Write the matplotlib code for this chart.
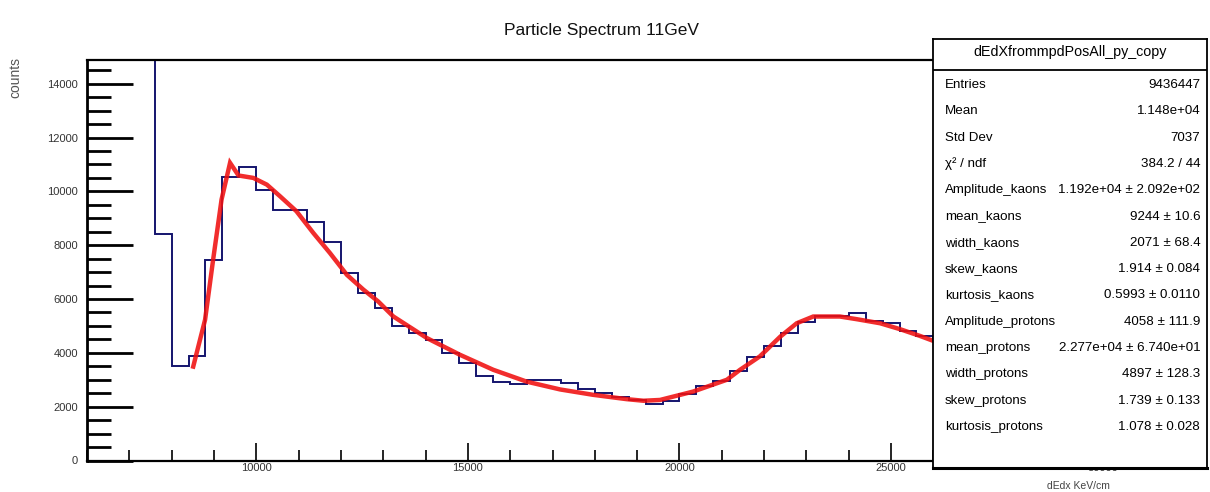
import matplotlib
matplotlib.use("Agg")
import matplotlib.pyplot as plt
from matplotlib.ticker import MultipleLocator
import numpy as np

plt.rcParams['font.family'] = ['Liberation Sans Narrow', 'Liberation Sans', 'DejaVu Sans']

# histogram: 400-wide bins starting at 6000
bin_start = 6000
bin_width = 400
counts = [15500, 15500, 15500, 15500, 8400, 3500, 3900, 7450, 10550, 10920,
          10060, 9300, 9300, 8870, 8110, 6980, 6230, 5680, 4990, 4740,
          4460, 3990, 3630, 3130, 2930, 2850, 2990, 2990, 2890, 2650,
          2490, 2360, 2250, 2100, 2200, 2480, 2750, 2970, 3310, 3850,
          4250, 4730, 5160, 5370, 5370, 5480, 5170, 5100, 4800, 4610,
          4450, 4300, 4150, 4000]

# fit curve
fit_x = [8510, 8790, 8980, 9180, 9380, 9580, 9930, 10250, 10560, 10950,
         11350, 11740, 12140, 12530, 12880, 13240, 14030, 14810, 15600,
         16390, 17180, 17960, 18750, 19150, 19540, 20320, 21120, 21430,
         21900, 22380, 22770, 23160, 23790, 24190, 24740, 25210, 25680, 26040, 26400]
fit_y = [3490, 5230, 7460, 9700, 11060, 10590, 10500, 10250, 9820, 9260,
         8450, 7710, 6900, 6350, 5910, 5350, 4550, 3930, 3370,
         2930, 2640, 2440, 2280, 2220, 2250, 2560, 3000, 3370,
         3870, 4600, 5100, 5350, 5350, 5250, 5100, 4880, 4630, 4420, 4250]

stats_labels = ["Entries", "Mean", "Std Dev", "\u03c7\u00b2 / ndf", "Amplitude_kaons",
                "mean_kaons", "width_kaons", "skew_kaons", "kurtosis_kaons",
                "Amplitude_protons", "mean_protons", "width_protons",
                "skew_protons", "kurtosis_protons"]
stats_values = ["9436447", "1.148e+04", "7037", "384.2 / 44",
                "1.192e+04 \u00b1 2.092e+02", "9244 \u00b1 10.6", "2071 \u00b1 68.4",
                "1.914 \u00b1 0.084", "0.5993 \u00b1 0.0110", "4058 \u00b1 111.9",
                "2.277e+04 \u00b1 6.740e+01", "4897 \u00b1 128.3",
                "1.739 \u00b1 0.133", "1.078 \u00b1 0.028"]

W, H = 1210, 492
fig = plt.figure(figsize=(W / 100, H / 100), dpi=100)
ax = fig.add_axes([87 / W, 1 - 460.5 / H, (1102.7 - 87) / W, (460.5 - 59.5) / H])

edges = bin_start + bin_width * np.arange(len(counts) + 1)
ax.stairs(counts, edges, color='#14146e', lw=1.4, baseline=0, zorder=2)
ax.plot(fit_x, fit_y, color='#f01010', lw=3.2, alpha=0.88, zorder=3,
        solid_joinstyle='miter')

ax.set_xlim(6000, 30000)
ax.set_ylim(0, 14900)
ax.xaxis.set_major_locator(MultipleLocator(5000))
ax.xaxis.set_minor_locator(MultipleLocator(1000))
ax.yaxis.set_major_locator(MultipleLocator(2000))
ax.yaxis.set_minor_locator(MultipleLocator(500))
ax.tick_params(axis='y', which='major', direction='in', length=33, width=2,
               labelsize=8, pad=6.5, labelcolor='#333333')
ax.tick_params(axis='y', which='minor', direction='in', length=17, width=2)
ax.tick_params(axis='x', which='major', direction='in', length=13, width=1.2,
               labelsize=8, pad=2, labelcolor='#333333')
ax.tick_params(axis='x', which='minor', direction='in', length=8, width=1.2)
ax.spines['left'].set_linewidth(2)
ax.spines['bottom'].set_linewidth(1.6)
ax.spines['top'].set_linewidth(1.6)
ax.spines['right'].set_linewidth(1.2)

fig.text(601 / W, 1 - 30 / H, "Particle Spectrum 11GeV", ha='center', va='center',
         fontsize=12.5, color='#111111')
fig.text(15 / W, 1 - 57 / H, "counts", rotation=90, ha='center', va='top',
         fontsize=10, color='#555555')
fig.text(1110 / W, 1 - 486 / H, "dEdx KeV/cm", ha='right', va='center',
         fontsize=7.5, color='#444444')

# stats box on top
bx0, by_top, by_bot = 933, 39, 468
box = fig.add_axes([bx0 / W, 1 - by_bot / H, (1207 - bx0) / W, (by_bot - by_top) / H])
box.set_xlim(0, 1)
box.set_ylim(by_bot, by_top)
box.set_xticks([])
box.set_yticks([])
for s in box.spines.values():
    s.set_linewidth(1.3)
box.spines['bottom'].set_linewidth(2.2)
box.axhline(69.5, color='black', lw=1.3)
box.text(0.5, 52, "dEdXfrommpdPosAll_py_copy", ha='center', va='center', fontsize=10.3)
for i, (lab, val) in enumerate(zip(stats_labels, stats_values)):
    y = 85 + i * 26.3
    box.text(0.044, y, lab, ha='left', va='center', fontsize=9.6)
    box.text(0.975, y, val, ha='right', va='center', fontsize=9.6)

fig.savefig("out.png", dpi=100)
